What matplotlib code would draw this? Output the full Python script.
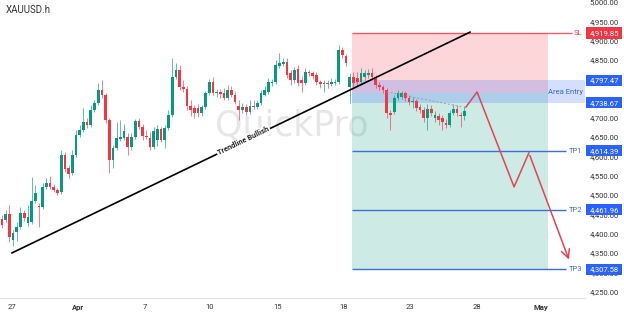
import math
import matplotlib
matplotlib.use("Agg")
import matplotlib.pyplot as plt
import matplotlib.transforms as mtransforms
from matplotlib.patches import Rectangle

plt.rcParams['font.family'] = ['Roboto', 'DejaVu Sans']

# --- XAUUSD.h 4H candles ---
opens = [4438, 4435, 4451, 4383, 4404, 4417, 4453, 4427, 4430, 4484,
         4471, 4469, 4521, 4531, 4521, 4513, 4508, 4604, 4570, 4557,
         4604, 4655, 4668, 4689, 4681, 4720, 4738, 4772, 4759, 4694,
         4591, 4622, 4645, 4648, 4650, 4624, 4650, 4692, 4676, 4653,
         4648, 4624, 4642, 4671, 4642, 4674, 4707, 4806, 4824, 4780,
         4775, 4731, 4725, 4725, 4712, 4728, 4764, 4793, 4764, 4767,
         4764, 4751, 4772, 4759, 4731, 4720, 4728, 4715, 4731, 4728,
         4738, 4759, 4767, 4790, 4793, 4834, 4840, 4845, 4816, 4798,
         4826, 4798, 4790, 4819, 4816, 4811, 4793, 4788, 4790, 4788,
         4790, 4793, 4876, 4860, 4780, 4806, 4803, 4793, 4806, 4811,
         4816, 4806, 4785, 4780, 4772, 4712, 4715, 4751, 4754, 4764,
         4751, 4741, 4743, 4728, 4720, 4699, 4723, 4699, 4705, 4699,
         4686, 4681, 4712, 4723, 4707, 4705]
highs = [4448, 4461, 4474, 4409, 4430, 4469, 4461, 4474, 4547, 4526,
         4479, 4531, 4544, 4549, 4528, 4518, 4617, 4611, 4578, 4617,
         4668, 4681, 4725, 4699, 4733, 4746, 4790, 4798, 4764, 4699,
         4630, 4689, 4694, 4684, 4661, 4661, 4697, 4699, 4684, 4668,
         4663, 4676, 4681, 4676, 4681, 4720, 4855, 4842, 4837, 4798,
         4782, 4746, 4733, 4736, 4733, 4769, 4801, 4806, 4775, 4775,
         4777, 4785, 4782, 4767, 4746, 4738, 4736, 4746, 4746, 4746,
         4772, 4782, 4803, 4801, 4850, 4868, 4855, 4855, 4824, 4832,
         4837, 4808, 4829, 4824, 4821, 4819, 4798, 4798, 4798, 4803,
         4801, 4889, 4884, 4865, 4816, 4819, 4819, 4829, 4824, 4826,
         4829, 4811, 4793, 4785, 4777, 4720, 4759, 4772, 4769, 4769,
         4759, 4754, 4749, 4736, 4728, 4736, 4733, 4718, 4712, 4707,
         4697, 4720, 4736, 4733, 4715, 4731]
lows = [4415, 4430, 4378, 4368, 4381, 4412, 4433, 4420, 4425, 4479,
        4417, 4464, 4516, 4516, 4508, 4500, 4503, 4560, 4544, 4552,
        4598, 4650, 4663, 4674, 4676, 4715, 4733, 4751, 4686, 4557,
        4570, 4617, 4640, 4642, 4604, 4617, 4645, 4671, 4642, 4645,
        4617, 4619, 4627, 4637, 4622, 4668, 4702, 4801, 4772, 4767,
        4720, 4705, 4699, 4702, 4705, 4723, 4759, 4759, 4754, 4751,
        4746, 4746, 4754, 4736, 4694, 4712, 4707, 4710, 4723, 4723,
        4733, 4756, 4762, 4782, 4788, 4829, 4834, 4803, 4785, 4790,
        4782, 4767, 4785, 4808, 4801, 4785, 4777, 4767, 4777, 4782,
        4785, 4788, 4855, 4834, 4738, 4780, 4782, 4788, 4798, 4803,
        4798, 4777, 4772, 4764, 4699, 4668, 4710, 4746, 4749, 4743,
        4733, 4725, 4718, 4712, 4689, 4668, 4705, 4689, 4681, 4668,
        4674, 4676, 4707, 4705, 4676, 4694]
closes = [4422, 4451, 4391, 4402, 4417, 4453, 4440, 4443, 4484, 4505,
          4469, 4521, 4531, 4521, 4513, 4505, 4604, 4567, 4554, 4604,
          4655, 4668, 4689, 4681, 4720, 4738, 4772, 4759, 4694, 4591,
          4622, 4648, 4650, 4666, 4624, 4650, 4692, 4676, 4653, 4650,
          4624, 4666, 4671, 4642, 4674, 4707, 4806, 4824, 4780, 4775,
          4731, 4720, 4712, 4712, 4728, 4764, 4793, 4764, 4767, 4762,
          4751, 4772, 4759, 4741, 4720, 4728, 4715, 4731, 4728, 4738,
          4764, 4772, 4793, 4793, 4837, 4842, 4845, 4811, 4798, 4824,
          4790, 4790, 4819, 4816, 4808, 4793, 4788, 4790, 4788, 4793,
          4793, 4876, 4863, 4842, 4806, 4790, 4793, 4816, 4816, 4816,
          4806, 4785, 4780, 4772, 4712, 4707, 4751, 4764, 4764, 4751,
          4741, 4743, 4725, 4720, 4699, 4723, 4712, 4707, 4694, 4689,
          4681, 4712, 4723, 4712, 4705, 4718]

# x axis labels (bar index, text)
date_pos = [2.7, 20.5, 38.6, 56.2, 74.6, 92.4, 110.3, 128.4, 145.7]
date_labels = ["27", "Apr", "7", "10", "15", "18", "23", "28", "May"]
bold_labels = ["Apr", "May"]

price_ticks = [5000, 4950, 4900, 4850, 4800, 4750, 4700, 4650, 4600,
               4550, 4500, 4450, 4400, 4350, 4300, 4250]

# trade setup
sl_price = 4919.85
entry_price = 4765
area_top = 4797.47
area_bottom = 4738.67
tp_prices = [4614.39, 4461.96, 4307.58]
tp_names = ["TP1", "TP2", "TP3"]

# trendline (bar index, price)
trend_x = [2.7, 126.5]
trend_y = [4350, 4922]

# projected path
path_x = [125.4, 128.4, 138.4, 142.4, 153.5]
path_y = [4728, 4767, 4521, 4609, 4326]

# dashed guide over the last bars
guide_x = [104, 124.6]
guide_y = [4767, 4728]

GREEN = "#089981"
RED = "#f23645"
BLUE = "#2962ff"

fig = plt.figure(figsize=(6.24, 3.16), dpi=100)
ax = fig.add_axes([0, 18 / 316, 585 / 624, 298 / 316])
ax.set_xlim(-0.54, 157.57)
ax.set_ylim(4233.2, 5005.2)

# watermark
ax.text(78.4, 4681, "QuickPro", fontsize=25, color="#e6e6e6", ha="center",
        va="center", family="DejaVu Sans", zorder=0)

# candles
n = len(closes)
idx = list(range(n))
cols = [GREEN if c >= o else RED for o, c in zip(opens, closes)]
ax.vlines(idx, lows, highs, colors=cols, linewidth=0.6, alpha=0.75, zorder=3)
bodies = [max(abs(c - o), 2.0) for o, c in zip(opens, closes)]
bottoms = [min(o, c) for o, c in zip(opens, closes)]
ax.bar(idx, bodies, bottom=bottoms, width=0.75, color=cols, linewidth=0, zorder=4)

# position tool zones
zx0, zx1 = 94.6, 147.6
ax.add_patch(Rectangle((zx0, entry_price), zx1 - zx0, sl_price - entry_price,
                       facecolor=RED, alpha=0.2, linewidth=0, zorder=1))
ax.add_patch(Rectangle((zx0, tp_prices[-1]), zx1 - zx0, entry_price - tp_prices[-1],
                       facecolor=GREEN, alpha=0.2, linewidth=0, zorder=1))
ax.add_patch(Rectangle((zx0, area_bottom), 157.57 - zx0, area_top - area_bottom,
                       facecolor=BLUE, alpha=0.2, linewidth=0, zorder=2))
ax.text(152.2, (area_top + area_bottom) / 2, "Area Entry", fontsize=5.5,
        color="#3a66d6", ha="center", va="center", zorder=5)

# SL / TP lines
ax.hlines(sl_price, zx0, 154.1, color=RED, linewidth=1.0, alpha=0.8, zorder=3)
ax.text(156.8, sl_price, "SL", fontsize=5.5, color=RED, ha="right", va="center")
for p, name in zip(tp_prices, tp_names):
    ax.hlines(p, zx0, 152.4, color="#3d6fd8", linewidth=1.0, zorder=3)
    ax.text(156.8, p, name, fontsize=5.5, color="#3d6fd8", ha="right", va="center")

# trendline
ax.plot(trend_x, trend_y, color="black", linewidth=1.2, zorder=5)
p0 = ax.transData.transform((trend_x[0], trend_y[0]))
p1 = ax.transData.transform((trend_x[1], trend_y[1]))
ang = math.degrees(math.atan2(p1[1] - p0[1], p1[0] - p0[0]))
tx = 65.3
ty = trend_y[0] + (trend_y[1] - trend_y[0]) * (tx - trend_x[0]) / (trend_x[1] - trend_x[0])
ax.text(tx, ty, "Trendline Bullish", fontsize=5.3, fontweight="bold", color="#222222",
        rotation=ang, rotation_mode="anchor", ha="center", va="center", zorder=6,
        bbox=dict(facecolor="white", edgecolor="none", pad=0.8))

# dashed guide + projected path
ax.plot(guide_x, guide_y, color="#9e9e9e", linewidth=0.7, linestyle=(0, (2, 2)), zorder=5)
ax.plot(path_x[:-1], path_y[:-1], color="#e04554", linewidth=1.1, zorder=6)
ax.annotate("", xy=(path_x[-1], path_y[-1]), xytext=(path_x[-2], path_y[-2]),
            arrowprops=dict(arrowstyle="->,head_length=0.6,head_width=0.3",
                            color="#e04554", linewidth=1.1), zorder=6)

# title
ax.text(0.01, 0.966, "XAUUSD.h", transform=ax.transAxes, fontsize=7,
        color="#333333", ha="left", va="center")

# axes styling
for s in ["top", "left", "right"]:
    ax.spines[s].set_visible(False)
ax.spines["bottom"].set_color("#e0e3eb")
ax.spines["bottom"].set_linewidth(0.8)

ax.yaxis.tick_right()
ax.set_yticks(price_ticks)
ax.set_yticklabels([f"{p:,.2f}" for p in price_ticks])
ax.tick_params(axis="y", length=0, pad=13.7, labelsize=5.5, labelcolor="#333333")
for lbl in ax.get_yticklabels():
    lbl.set_ha("center")

ax.set_xticks(date_pos)
ax.set_xticklabels(date_labels)
ax.tick_params(axis="x", length=0, pad=4, labelsize=5.5, labelcolor="#333333")
for lbl in ax.get_xticklabels():
    if lbl.get_text() in bold_labels:
        lbl.set_fontweight("bold")

# price labels on the scale
trans = mtransforms.blended_transform_factory(ax.transAxes, ax.transData)
for p, c in [(sl_price, RED), (area_top, BLUE), (area_bottom, BLUE)] + \
        [(tp, BLUE) for tp in tp_prices]:
    ax.add_patch(Rectangle((586 / 585, p - 14.5), 36 / 585, 29, transform=trans,
                           facecolor=c, edgecolor="none", clip_on=False, zorder=8))
    ax.text(604 / 585, p, f"{p:,.2f}", transform=trans, fontsize=5.5, color="white",
            ha="center", va="center", clip_on=False, zorder=9)

fig.savefig("out.png", dpi=100)
